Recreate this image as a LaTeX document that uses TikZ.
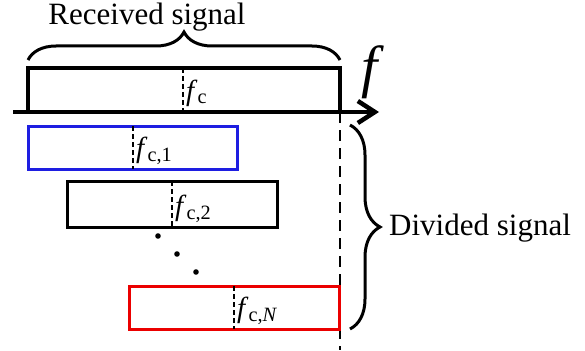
\documentclass[tikz,border=0pt]{standalone}
\usepackage{fontspec}
\setmainfont{LiberationSerif}[Extension=.ttf, UprightFont=*-Regular, ItalicFont=*-Italic, BoldFont=*-Bold]
\usetikzlibrary{arrows.meta, decorations.pathreplacing}

\definecolor{bandblue}{RGB}{30,30,225}
\definecolor{bandred}{RGB}{235,0,0}
\newcommand{\fsub}[1]{\textit{f}\textsubscript{#1}}

\begin{document}
\begin{tikzpicture}[x=1pt, y=-1pt,
		band/.style={line width=3pt},
		midline/.style={line width=1.6pt, dash pattern=on 5pt off 3pt},
		sigbrace/.style={decorate, decoration={brace, amplitude=#1}, line width=3pt},
		fclabel/.style={anchor=base west, inner sep=0pt, font=\fontsize{29}{32}\selectfont},
		bigtext/.style={inner sep=0pt, font=\fontsize{31}{34}\selectfont}]
		\useasboundingbox (0,0) rectangle (585,350);

		% received band on the axis
		\coordinate (rxA) at (28,68);
		\coordinate (rxB) at (340,112);
		\draw[line width=4pt] (rxA) rectangle (rxB);
		\draw[midline] (183,68) -- (183,112);
		\node[fclabel] (fc) at (186,100) {\fsub{c}};

		\coordinate (axA) at (13,112);
		\coordinate (axB) at (379,112);
		\draw[line width=4.5pt, -{Straight Barb[length=17pt, width=22pt]}] (axA) -- (axB);
		\node[inner sep=0pt, font=\fontsize{58}{60}\selectfont] (faxis) at (373,72) {\textit{f}};

		\coordinate (cut) at (340,350);
		\draw[line width=2.6pt, dash pattern=on 11pt off 7pt] (rxB) -- (cut);

		\draw[sigbrace=28pt] (28,60) -- (340,60);
		\node[bigtext, anchor=base] (recv) at (147,25) {Received signal};

		% divided bands
		\draw[band, bandblue] (28,126) rectangle (237,169);
		\draw[midline] (133,126) -- (133,169);
		\node[fclabel] (fc1) at (136,157) {\fsub{c,1}};

		\draw[band] (67,181) rectangle (277,227);
		\draw[midline] (172,181) -- (172,227);
		\node[fclabel] (fc2) at (175,215) {\fsub{c,2}};

		\foreach \p in {(158,236), (177,254), (196,272)}
			\fill \p circle (2.8pt);

		\draw[band, bandred] (129,286) rectangle (339,329);
		\draw[midline] (234,286) -- (234,329);
		\node[fclabel] (fcN) at (237,317) {\fsub{c,\textit{N}}};

		\draw[sigbrace=30pt] (350,125) -- (350,329);
		\node[bigtext, anchor=base west] (divd) at (389,235) {Divided signal};
	\end{tikzpicture}
\end{document}
